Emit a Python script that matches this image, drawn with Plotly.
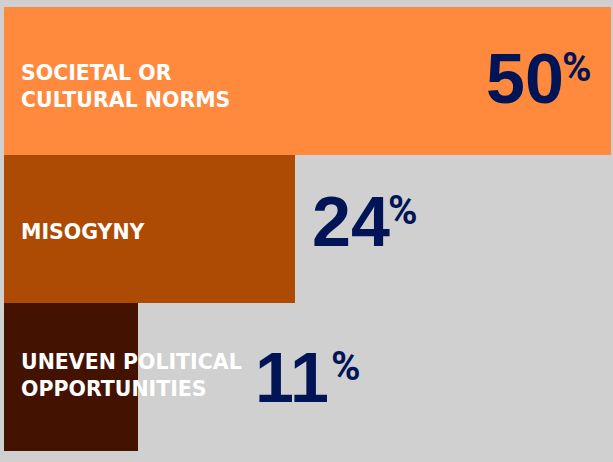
import plotly.graph_objects as go

categories = ["SOCIETAL OR<br>CULTURAL NORMS", "MISOGYNY", "UNEVEN POLITICAL<br>OPPORTUNITIES"]
values = [50, 24, 11]
colors = ["#FF8A3D", "#AD4A03", "#431200"]
num_xshift = [-127, 15, 115]
num_yshift = [2, 7, -1]
pct_offset = [76, 76, 76]
label_yshift = [-5, -3, 2]

BG = "#D0D0D0"
NAVY = "#001456"

fig = go.Figure()
fig.add_trace(go.Bar(
    y=categories, x=values, orientation="h",
    marker=dict(color=colors, line=dict(width=0)),
    hoverinfo="skip",
))

for cat, v, xs, ys, po, ly in zip(categories, values, num_xshift, num_yshift, pct_offset, label_yshift):
    fig.add_annotation(
        x=0, y=cat, xref="x", yref="y", text=cat, showarrow=False,
        xanchor="left", yanchor="middle", xshift=15, yshift=ly, align="left",
        font=dict(family="DejaVu Sans", size=20.5, color="white", weight="bold"),
    )
    fig.add_annotation(
        x=v, y=cat, xref="x", yref="y", text=f"{v}",
        showarrow=False, xanchor="left", yanchor="middle", xshift=xs, yshift=ys,
        font=dict(family="Liberation Sans", size=70, color=NAVY, weight="bold"),
    )
    fig.add_annotation(
        x=v, y=cat, xref="x", yref="y", text="%",
        showarrow=False, xanchor="left", yanchor="middle", xshift=xs + po, yshift=ys + 12,
        font=dict(family="Roboto", size=40, color=NAVY, weight="bold"),
    )

fig.update_layout(
    width=613, height=462,
    margin=dict(l=4, r=2, t=7, b=11),
    paper_bgcolor=BG, plot_bgcolor=BG,
    bargap=0, showlegend=False,
    xaxis=dict(range=[0, 50], visible=False, fixedrange=True),
    yaxis=dict(categoryorder="array", categoryarray=categories[::-1], visible=False, fixedrange=True),
)

fig.write_html("out.html", config={"displayModeBar": False})
